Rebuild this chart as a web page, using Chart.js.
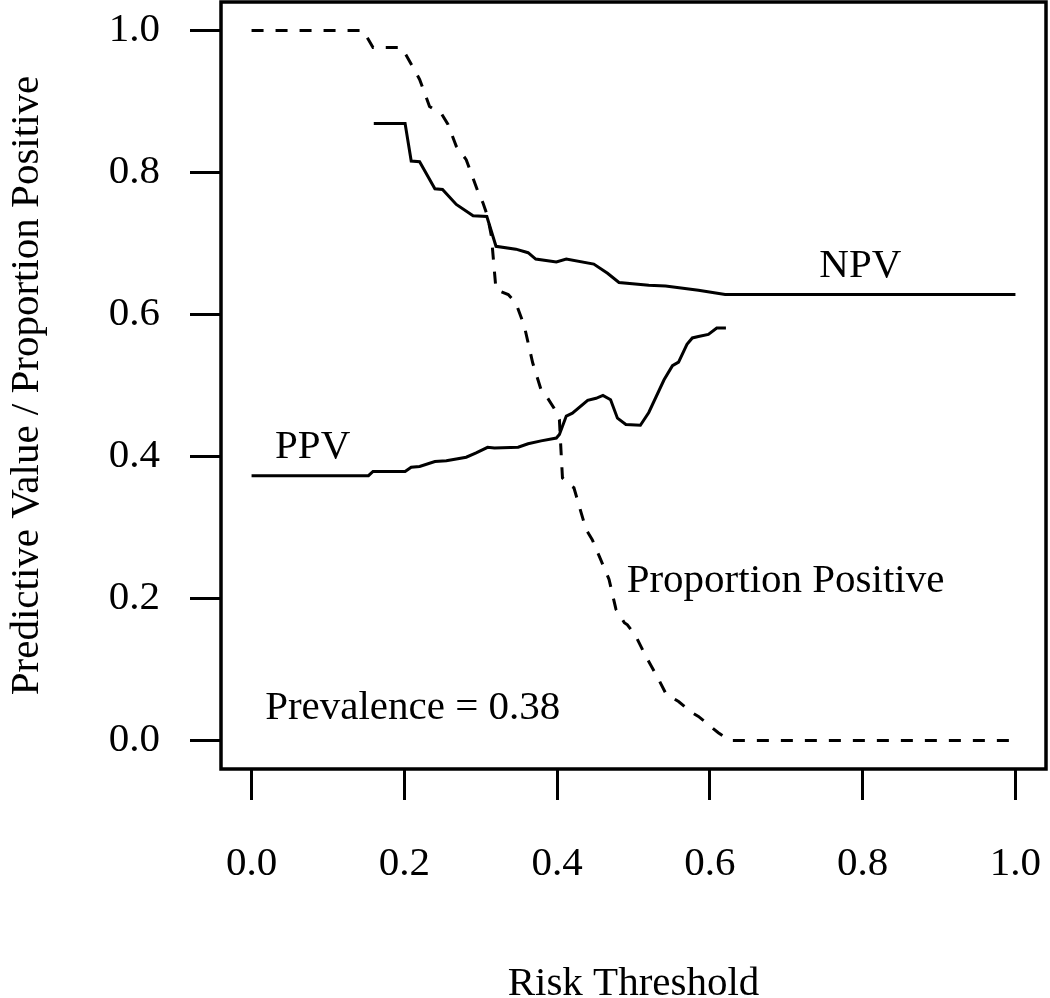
<!DOCTYPE html>
<html>
<head>
<meta charset="utf-8">
<script src="https://cdn.jsdelivr.net/npm/chart.js@4.4.1/dist/chart.umd.min.js"></script>
<style>
  body { margin: 0; background: #fff; }
  #wrap { width: 1050px; height: 998px; }
</style>
</head>
<body>
<div id="wrap"><canvas id="riskChart"></canvas></div>
<script>
// data
const ppX = [0, 0.146, 0.159, 0.196, 0.203, 0.220, 0.233, 0.249, 0.257, 0.268, 0.281, 0.296, 0.303, 0.309, 0.314, 0.320, 0.336, 0.346, 0.357, 0.368, 0.379, 0.386, 0.396, 0.403, 0.405, 0.407, 0.414, 0.422, 0.429, 0.438, 0.446, 0.455, 0.468, 0.477, 0.488, 0.492, 0.503, 0.516, 0.533, 0.542, 0.551, 0.559, 0.577, 0.585, 0.611, 0.626, 1.0];
const ppY = [1, 1, 0.976, 0.976, 0.964, 0.931, 0.893, 0.882, 0.868, 0.837, 0.818, 0.774, 0.757, 0.738, 0.710, 0.635, 0.628, 0.616, 0.584, 0.532, 0.494, 0.485, 0.468, 0.452, 0.410, 0.370, 0.362, 0.356, 0.330, 0.297, 0.283, 0.260, 0.227, 0.185, 0.166, 0.163, 0.147, 0.119, 0.086, 0.067, 0.060, 0.055, 0.039, 0.034, 0.011, 0, 0];

const npvX = [0.160, 0.201, 0.209, 0.220, 0.240, 0.250, 0.268, 0.290, 0.308, 0.320, 0.346, 0.362, 0.372, 0.399, 0.412, 0.448, 0.466, 0.481, 0.520, 0.542, 0.585, 0.620, 1.0];
const npvY = [0.869, 0.869, 0.816, 0.815, 0.777, 0.776, 0.755, 0.739, 0.738, 0.696, 0.692, 0.687, 0.678, 0.674, 0.678, 0.671, 0.658, 0.645, 0.641, 0.640, 0.634, 0.628, 0.628];

const ppvX = [0, 0.153, 0.159, 0.201, 0.209, 0.220, 0.240, 0.255, 0.281, 0.294, 0.309, 0.318, 0.349, 0.362, 0.379, 0.399, 0.403, 0.412, 0.420, 0.440, 0.451, 0.460, 0.470, 0.479, 0.490, 0.509, 0.520, 0.540, 0.551, 0.559, 0.570, 0.577, 0.585, 0.598, 0.609, 0.621];
const ppvY = [0.373, 0.373, 0.379, 0.379, 0.385, 0.386, 0.393, 0.394, 0.399, 0.405, 0.413, 0.412, 0.413, 0.418, 0.422, 0.426, 0.431, 0.457, 0.461, 0.479, 0.482, 0.486, 0.480, 0.454, 0.445, 0.444, 0.462, 0.508, 0.528, 0.533, 0.558, 0.567, 0.569, 0.572, 0.581, 0.581];

const tickVals = [0, 0.2, 0.4, 0.6, 0.8, 1.0];

const noteText = ["NPV", "PPV", "Proportion Positive", "Prevalence = 0.38"];
const noteX = [0.797, 0.080, 0.699, 0.211];
const noteY = [0.668, 0.413, 0.224, 0.045];

const serif = "'Liberation Serif', 'Times New Roman', serif";
const fontSize = 41;

function pts(xs, ys) {
  return xs.map((x, i) => ({ x: x, y: ys[i] }));
}

// box round the plot + text notes
const boxAndNotes = {
  id: "boxAndNotes",
  afterDraw(chart) {
    const ctx = chart.ctx;
    const a = chart.chartArea;
    const sx = chart.scales.x, sy = chart.scales.y;
    ctx.save();
    ctx.strokeStyle = "#000";
    ctx.lineWidth = 3.5;
    ctx.strokeRect(a.left, a.top, a.right - a.left, a.bottom - a.top);
    ctx.fillStyle = "#000";
    ctx.font = fontSize + "px " + serif;
    ctx.textAlign = "center";
    ctx.textBaseline = "middle";
    noteText.forEach((t, i) => {
      ctx.fillText(t, sx.getPixelForValue(noteX[i]), sy.getPixelForValue(noteY[i]));
    });
    ctx.restore();
  },
};

function noPad(s) {
  s.paddingTop = 0;
  s.paddingBottom = 0;
  s.paddingLeft = 0;
  s.paddingRight = 0;
}

const lineStyle = {
  borderColor: "#000",
  borderWidth: 3,
  pointRadius: 0,
  tension: 0,
  fill: false,
};

const config = {
  type: "line",
  data: {
    datasets: [
      { ...lineStyle, label: "Proportion Positive", data: pts(ppX, ppY), borderDash: [12, 12] },
      { ...lineStyle, label: "NPV", data: pts(npvX, npvY) },
      { ...lineStyle, label: "PPV", data: pts(ppvX, ppvY) },
    ],
  },
  options: {
    responsive: true,
    maintainAspectRatio: false,
    animation: false,
    layout: { padding: { top: 2, right: 4, left: 0, bottom: 0 } },
    plugins: {
      legend: { display: false },
      tooltip: { enabled: false },
    },
    scales: {
      x: {
        type: "linear",
        min: -0.04,
        max: 1.04,
        afterBuildTicks: (s) => { s.ticks = tickVals.map((v) => ({ value: v })); },
        afterFit: (s) => { s.height = 229; noPad(s); },
        ticks: {
          color: "#000",
          font: { family: serif, size: fontSize },
          padding: 40,
          maxRotation: 0,
          autoSkip: false,
          callback: (v) => v.toFixed(1),
        },
        grid: {
          drawOnChartArea: false,
          drawTicks: true,
          tickLength: 31,
          tickWidth: 3,
          tickColor: "#000",
        },
        border: { display: false },
        title: {
          display: true,
          text: "Risk Threshold",
          color: "#000",
          font: { family: serif, size: fontSize },
          padding: { top: 0, bottom: -11 },
        },
      },
      y: {
        type: "linear",
        min: -0.04,
        max: 1.04,
        afterBuildTicks: (s) => { s.ticks = tickVals.map((v) => ({ value: v })); },
        afterFit: (s) => { s.width = 221; noPad(s); },
        ticks: {
          color: "#000",
          font: { family: serif, size: fontSize },
          padding: 30,
          autoSkip: false,
          callback: (v) => v.toFixed(1),
        },
        grid: {
          drawOnChartArea: false,
          drawTicks: true,
          tickLength: 31,
          tickWidth: 3,
          tickColor: "#000",
        },
        border: { display: false },
        title: {
          display: true,
          text: "Predictive Value / Proportion Positive",
          color: "#000",
          font: { family: serif, size: fontSize },
          padding: { top: 3, bottom: 0 },
        },
      },
    },
  },
  plugins: [boxAndNotes],
};

const riskChart = new Chart(document.getElementById("riskChart"), config);
</script>
</body>
</html>
